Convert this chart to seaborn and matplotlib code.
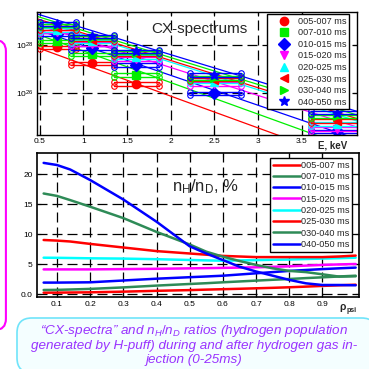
import numpy as np
import pandas as pd
import seaborn as sns
import matplotlib
matplotlib.use('Agg')
from matplotlib import pyplot as plt
from matplotlib.patches import FancyBboxPatch

nan = np.nan

periods = ['005-007 ms', '007-010 ms', '010-015 ms', '015-020 ms',
           '020-025 ms', '025-030 ms', '030-040 ms', '040-050 ms']
top_colors = ['#ff0000', '#00ee00', '#0000ff', '#ff00ff',
              '#00ffff', '#ff0000', '#00ee00', '#0000ff']
bottom_colors = ['#ff0000', '#2e8b57', '#0000ff', '#ff00ff',
                 '#00ffff', '#ff0000', '#2e8b57', '#0000ff']
markers = ['o', 's', 'D', 'v', '^', '<', '>', '*']

# CX spectra: energy bins (keV) and log10 of flux in each bin
e_lo = [0.5, 0.86, 1.35, 2.22, 3.6]
e_mid = [0.7, 1.1, 1.6, 2.5, 3.9]
e_hi = [0.92, 1.35, 1.87, 2.8, 4.2]
cx_005 = [27.90, 27.24, 26.38, nan, nan]
cx_007 = [28.15, 27.62, 26.76, nan, nan]
cx_010 = [28.45, 27.88, 27.17, 26.00, 24.42]
cx_015 = [28.55, 28.05, 27.42, 26.38, 24.52]
cx_020 = [28.62, 28.15, 27.50, 26.48, 24.72]
cx_025 = [28.70, 28.22, 27.62, 26.56, 24.85]
cx_030 = [28.80, 28.30, 27.68, 26.64, 25.05]
cx_040 = [28.88, 28.36, 27.74, 26.76, 25.20]
cx_err = 0.07

# fitted spectra, log10 flux at the two ends of the energy axis
fit_e = [0.47, 4.13]
fit_start = [27.90, 28.45, 28.64, 28.84, 29.04, 29.09, 29.19, 29.29]
fit_end = [23.07, 23.65, 24.10, 24.60, 24.85, 24.95, 25.10, 25.25]

# n_H/n_D profiles (%)
rho = [0.06, 0.1, 0.14, 0.2, 0.3, 0.4, 0.5, 0.55, 0.6, 0.65, 0.7, 0.75,
       0.8, 0.85, 0.9, 0.95, 1.0]
nh_005 = [0.27, 0.28, 0.30, 0.33, 0.44, 0.58, 0.70, 0.78, 0.85, 0.92, 1.0,
          1.08, 1.17, 1.28, 1.4, 1.5, 1.6]
nh_007 = [0.72, 0.74, 0.8, 0.9, 1.15, 1.45, 1.72, 1.85, 2.0, 2.14, 2.28,
          2.42, 2.55, 2.7, 2.83, 2.97, 3.1]
nh_010 = [1.95, 1.95, 1.97, 2.0, 2.3, 2.6, 2.85, 2.97, 3.1, 3.3, 3.5, 3.7,
          3.9, 4.05, 4.2, 4.33, 4.45]
nh_015 = [4.15, 4.15, 4.15, 4.15, 4.2, 4.25, 4.32, 4.36, 4.4, 4.45, 4.5,
          4.58, 4.67, 4.78, 4.9, 4.98, 5.05]
nh_020 = [6.1, 6.08, 6.05, 6.0, 5.95, 5.85, 5.72, 5.65, 5.6, 5.65, 5.7,
          5.75, 5.8, 5.88, 5.95, 6.02, 6.1]
nh_025 = [9.05, 8.95, 8.8, 8.4, 7.8, 7.2, 6.8, 6.6, 6.4, 6.3, 6.2, 6.2,
          6.2, 6.2, 6.2, 6.3, 6.45]
nh_030 = [16.8, 16.4, 15.7, 14.6, 12.7, 10.4, 8.3, 7.1, 6.27, 5.55, 4.9,
          4.33, 3.9, 3.7, 3.33, 2.95, 3.0]
nh_040 = [21.9, 21.55, 20.8, 19.05, 15.8, 12.1, 8.0, 6.8, 5.7, 4.6, 3.8,
          3.1, 2.4, 1.83, 1.55, 1.55, 1.5]

cx_all = [cx_005, cx_007, cx_010, cx_015, cx_020, cx_025, cx_030, cx_040]
nh_all = [nh_005, nh_007, nh_010, nh_015, nh_020, nh_025, nh_030, nh_040]

sns.set_style('ticks')
plt.rcParams['font.family'] = ['Liberation Sans', 'DejaVu Sans']
plt.rcParams['mathtext.fontset'] = 'custom'
plt.rcParams['mathtext.rm'] = 'Liberation Sans'
plt.rcParams['mathtext.it'] = 'Liberation Sans:italic'
plt.rcParams['mathtext.bf'] = 'Liberation Sans:bold'
plt.rcParams['axes.edgecolor'] = 'k'
plt.rcParams['xtick.color'] = 'k'
plt.rcParams['ytick.color'] = 'k'

W = 369.0
fig = plt.figure(figsize=(3.69, 3.69), dpi=100)
ax1 = fig.add_axes([37 / W, 1 - 135 / W, 320 / W, 123 / W])
ax2 = fig.add_axes([37 / W, 1 - 297 / W, 322 / W, 144 / W])

grid_kw = dict(color='k', lw=0.9, ls=(0, (8, 4)))

# ---- top: CX spectra
fit_df = pd.DataFrame({
    'E': np.tile(fit_e, len(periods)),
    'flux': 10.0 ** np.column_stack([fit_start, fit_end]).ravel(),
    'period': np.repeat(periods, 2),
})
sns.lineplot(data=fit_df, x='E', y='flux', hue='period', hue_order=periods,
             palette=top_colors, lw=0.9, legend=False, errorbar=None, ax=ax1)
ax1.set_yscale('log')

handles = []
for vals, col, mk, lab in zip(cx_all, top_colors, markers, periods):
    for lo, hi, v in zip(e_lo, e_hi, vals):
        if np.isnan(v):
            continue
        for dv in (-cx_err, cx_err):
            ax1.plot([lo, hi], [10 ** (v + dv)] * 2, color=col, lw=1.0,
                     marker='o', mfc='none', ms=4, mew=0.8)
    h, = ax1.plot(e_mid, 10.0 ** np.array(vals), ls='none', marker=mk,
                  color=col, ms=6 if mk != '*' else 7, label=lab)
    handles.append(h)

ax1.set_xlim(0.47, 4.13)
ax1.set_ylim(10 ** 24.27, 10 ** 29.37)
ax1.minorticks_off()
ax1.set_yticks([1e26, 1e28])
ax1.set_yticklabels([r'$\mathregular{10^{26}}$', r'$\mathregular{10^{28}}$'])
ax1.set_xticks([0.5, 1, 1.5, 2, 2.5, 3, 3.5])
ax1.set_xticklabels(['0.5', '1', '1.5', '2', '2.5', '3', '3.5'])
ax1.grid(True, **grid_kw)
ax1.set_xlabel('')
ax1.set_ylabel('')
ax1.tick_params(direction='in', length=3, width=0.8, labelsize=6, pad=2.5,
                top=True, right=True)
for s in ax1.spines.values():
    s.set_linewidth(1.0)
ax1.text(0.508, 0.862, 'CX-spectrums', transform=ax1.transAxes,
         ha='center', va='center', fontsize=11)
leg1 = ax1.legend(handles=handles, labels=periods, loc='upper right',
                  bbox_to_anchor=(0.975, 0.984), borderaxespad=0,
                  frameon=True, fancybox=False, edgecolor='k', framealpha=1,
                  fontsize=6.6, handlelength=3.0, handletextpad=0.05,
                  labelspacing=0.28, borderpad=0.3)
leg1.get_frame().set_linewidth(1.0)

# ---- bottom: n_H/n_D profiles
nh_df = pd.DataFrame({
    'rho': np.tile(rho, len(periods)),
    'ratio': np.concatenate(nh_all),
    'period': np.repeat(periods, len(rho)),
})
sns.lineplot(data=nh_df, x='rho', y='ratio', hue='period', hue_order=periods,
             palette=bottom_colors, lw=1.8, legend=False, errorbar=None, ax=ax2)
ax2.set_xlim(0.04, 1.01)
ax2.set_ylim(-0.45, 23.55)
ax2.set_yticks([0, 5, 10, 15, 20])
ax2.set_yticklabels(['0.0', '5', '10', '15', '20'])
ax2.set_xticks([0.1, 0.2, 0.3, 0.4, 0.5, 0.6, 0.7, 0.8, 0.9])
ax2.set_xticklabels(['0.1', '0.2', '0.3', '0.4', '0.5', '0.6', '0.7',
                     '0.8', '0.9'])
ax2.grid(True, **grid_kw)
ax2.set_xlabel('')
ax2.set_ylabel('')
ax2.tick_params(direction='in', length=3, width=0.8, labelsize=6, pad=3,
                top=True, right=True)
for s in ax2.spines.values():
    s.set_linewidth(1.2)
ax2.text(0.523, 0.764, r'$\mathrm{n_H/n_D}$, %', transform=ax2.transAxes,
         ha='center', va='center', fontsize=12)
leg2 = ax2.legend(handles=ax2.lines[:len(periods)], labels=periods,
                  loc='upper right', bbox_to_anchor=(0.978, 0.965),
                  borderaxespad=0, frameon=True, fancybox=False,
                  edgecolor='k', framealpha=1, fontsize=6.6, handlelength=3.0,
                  handletextpad=0.05, labelspacing=0.25, borderpad=0.3)
leg2.get_frame().set_linewidth(1.0)

# axis names
fig.text(333 / W, 1 - 145 / W, 'E, keV', ha='center', va='center',
         fontsize=7, weight='bold')
fig.text(343 / W, 1 - 307 / W, 'ρ', ha='center', va='center',
         fontsize=7.5, weight='bold')
fig.text(347 / W, 1 - 310 / W, 'psi', ha='left', va='center',
         fontsize=5, weight='bold')

# decoration boxes
fig.add_artist(FancyBboxPatch((-0.05, 1 - 330 / W), 0.066, 290 / W,
                              boxstyle='round,pad=0,rounding_size=0.03',
                              transform=fig.transFigure, ec='#ff00ff',
                              fc='none', lw=1.5, clip_on=False))
fig.add_artist(FancyBboxPatch((17 / W, -0.01), 1.02 - 17 / W, 0.01 + 1 - 318 / W,
                              boxstyle='round,pad=0,rounding_size=0.04',
                              transform=fig.transFigure, ec='#70e4fa',
                              fc='#f4feff', lw=1.2, clip_on=False))
caption = ('\u201cCX-spectra\u201d and $n_H/n_D$ ratios (hydrogen population\n'
           'generated by H-puff) during and after hydrogen gas in-\n'
           'jection (0-25ms)')
fig.text(194 / W, 1 - 344.5 / W, caption, ha='center', va='center',
         multialignment='center', fontsize=9.7, style='italic',
         color='#9933ff', linespacing=1.2)

fig.savefig('out.png', dpi=100)
